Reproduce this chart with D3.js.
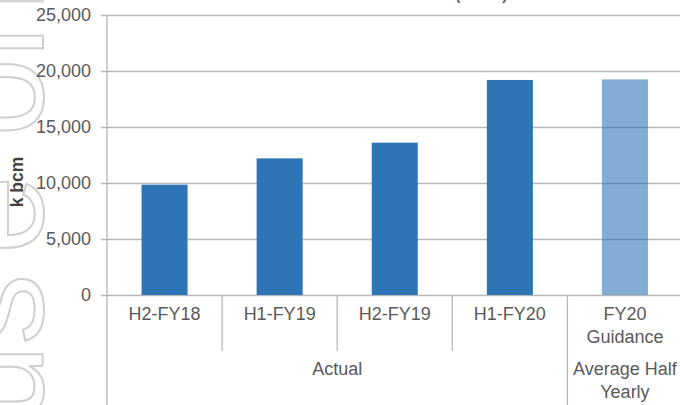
<!DOCTYPE html>
<html>
<head>
<meta charset="utf-8">
<script src="https://cdn.jsdelivr.net/npm/d3@7"></script>
<style>
  body { margin: 0; background: #fff; }
  svg { display: block; }
  text { font-family: "Liberation Sans", Arial, sans-serif; }
</style>
</head>
<body>
<svg id="chart" width="680" height="405"></svg>
<script>
// Half-yearly material movement, thousand bank cubic metres
const categories = ["H2-FY18", "H1-FY19", "H2-FY19", "H1-FY20", "FY20 Guidance"];
const values = [9850, 12200, 13600, 19200, 19250];
const barKinds = ["actual", "actual", "actual", "actual", "guidance"];
const groupLabels = ["Actual", "Average Half Yearly"];
const groupSizes = [4, 1];
const yTicks = [0, 5000, 10000, 15000, 20000, 25000];
const yTitle = "k bcm";
const chartTitle = "Total Material Movement (k bcm)";
const watermark = "For personal use only";

const W = 680, H = 405;
const plot = { left: 107, right: 682.5, top: 15, bottom: 295 };
const gridColor = "#b7b7b7";
const textColor = "#595959";
const barColor = "#2E75B6";

const svg = d3.select("#chart");

// outlined margin watermark, reading bottom to top
const wm = svg.append("text")
  .attr("transform", "translate(43,423) rotate(-90)")
  .attr("font-size", 141)
  .attr("fill", "none")
  .attr("stroke", "#cfcfcf")
  .attr("stroke-width", 2);
wm.append("tspan").text(watermark.slice(0, 15));
wm.append("tspan").attr("dx", 20).text(watermark.slice(15));
wm.attr("x", -wm.node().getSubStringLength(0, 13));

const y = d3.scaleLinear().domain([0, 25000]).range([plot.bottom, plot.top]);
const x = d3.scaleBand().domain(categories).range([plot.left, plot.right]).padding(0);
const bw = x.bandwidth();

// value axis with gridlines
const yAxis = svg.append("g")
  .attr("transform", `translate(${plot.left},0)`)
  .call(d3.axisLeft(y).tickValues(yTicks).tickSize(-(W - plot.left)).tickPadding(16)
    .tickFormat(d3.format(",")));
yAxis.select(".domain").remove();
yAxis.selectAll(".tick line").attr("x1", -6).attr("stroke", gridColor).attr("stroke-width", 1.3);
yAxis.selectAll(".tick text").attr("font-size", 18).attr("fill", textColor);

// bars
svg.append("g").selectAll("rect")
  .data(categories)
  .join("rect")
  .attr("x", (d) => x(d) + bw * 0.3)
  .attr("width", bw * 0.4)
  .attr("y", (d, i) => y(values[i]))
  .attr("height", (d, i) => y(0) - y(values[i]))
  .attr("fill", barColor)
  .attr("fill-opacity", (d, i) => barKinds[i] === "guidance" ? 0.6 : 1);

// vertical axis line running down through the category rows
svg.append("line")
  .attr("x1", plot.left).attr("x2", plot.left)
  .attr("y1", plot.top).attr("y2", H)
  .attr("stroke", gridColor).attr("stroke-width", 1.3);

// dividers between categories and between groups
const groupEnds = d3.cumsum(groupSizes);
categories.forEach((c, i) => {
  if (i === 0) return;
  const isGroupEdge = groupEnds.includes(i);
  svg.append("line")
    .attr("x1", x(c)).attr("x2", x(c))
    .attr("y1", plot.bottom).attr("y2", isGroupEdge ? H : 351)
    .attr("stroke", gridColor).attr("stroke-width", 1.3);
});

// word-wrapped centred label
function wrapLabel(str, cx, y0, maxW, lineH) {
  const t = svg.append("text")
    .attr("text-anchor", "middle").attr("font-size", 18).attr("fill", textColor);
  const words = str.split(" ");
  let line = [];
  let lineNo = 0;
  let ts = t.append("tspan").attr("x", cx).attr("y", y0);
  words.forEach((w) => {
    line.push(w);
    ts.text(line.join(" "));
    if (ts.node().getComputedTextLength() > maxW && line.length > 1) {
      line.pop();
      ts.text(line.join(" "));
      line = [w];
      lineNo++;
      ts = t.append("tspan").attr("x", cx).attr("y", y0 + lineNo * lineH).text(w);
    }
  });
}

categories.forEach((c) => wrapLabel(c, x(c) + bw / 2, 319.5, bw - 6, 23.3));

let start = 0;
groupLabels.forEach((g, i) => {
  const first = categories[start];
  const last = categories[start + groupSizes[i] - 1];
  const cx = (x(first) + x(last) + bw) / 2;
  wrapLabel(g, cx, 374.5, bw * groupSizes[i] - 6, 23.3);
  start += groupSizes[i];
});

// axis title
svg.append("text")
  .attr("transform", `translate(23,${(plot.top + plot.bottom) / 2 + 27}) rotate(-90)`)
  .attr("text-anchor", "middle")
  .attr("font-size", 17.5).attr("font-weight", "bold").attr("fill", "#404040")
  .text(yTitle);

// chart title, sitting above the top edge
svg.append("text")
  .attr("x", 507).attr("y", 0)
  .attr("text-anchor", "end")
  .attr("font-size", 14.5).attr("font-weight", "bold").attr("fill", textColor)
  .text(chartTitle);
</script>
</body>
</html>
